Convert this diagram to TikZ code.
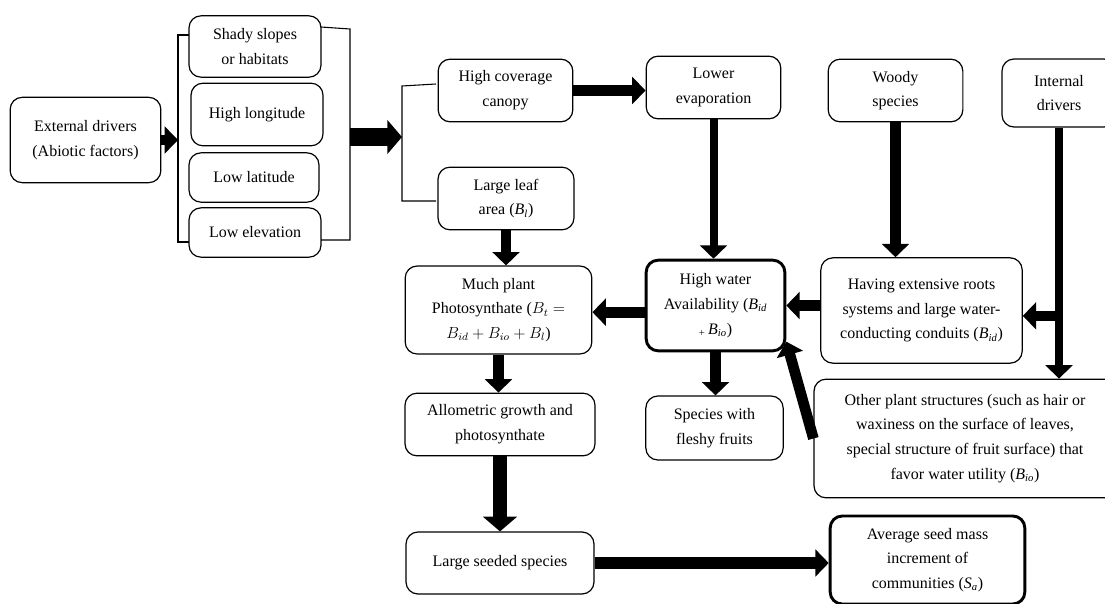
\documentclass[tikz,border=0pt]{standalone}
\usepackage{fontspec}
\setmainfont{Liberation Serif}
\usetikzlibrary{arrows.meta}
\newcommand{\Bsub}[1]{\textit{B}\textsubscript{\textit{#1}}}

\begin{document}
\begin{tikzpicture}[x=0.75pt, y=-0.75pt,
  box/.style={draw, rounded corners=9pt, line width=0.9pt, align=center, inner sep=2pt, font=\fontsize{12}{18.5}\selectfont},
  keybox/.style={box, line width=2.2pt},
  flow/.style={line width=8pt, -{Triangle[width=20pt, length=10pt]}},
  slimflow/.style={flow, line width=6pt},
  bigflow/.style={line width=14pt, -{Triangle[width=25pt, length=11pt]}},
  bracket/.style={line width=0.8pt}]
\useasboundingbox (0,0) rectangle (1105,603);
\clip (0,0) rectangle (1105,603);

% abiotic side
\node[box, minimum width=113pt, minimum height=64pt] (ext) at (85.5,140) {External drivers\\(Abiotic factors)};
\node[box, minimum width=99pt, minimum height=46pt] (shady) at (255,46.5) {Shady slopes\\or habitats};
\node[box, minimum width=99pt, minimum height=47pt] (longi) at (257,114.5) {High longitude};
\node[box, minimum width=97.5pt, minimum height=37pt] (lati) at (254,177.5) {Low latitude};
\node[box, minimum width=99pt, minimum height=37pt] (elev) at (255,232.5) {Low elevation};

% brackets
\draw[bracket] (189,35) -- (178,35) -- (178,242) -- (189,242);
\draw[bracket] (321,27) -- (350,29) -- (350,240) -- (321,240);
\draw[bracket] (436,84) -- (402,86) -- (402,201) -- (436,201);
\coordinate (lbr) at (178,140);
\coordinate (rbr) at (350,137);
\coordinate (cbr) at (402,137);

% canopy and leaves
\node[box, minimum width=101pt, minimum height=47pt] (canopy) at (505.5,90.5) {High coverage\\canopy};
\node[box, minimum width=102pt, minimum height=47pt] (leaf) at (506,198.5) {Large leaf\\area (\Bsub{l})};
\node[box, minimum width=101pt, minimum height=47pt] (evap) at (713.5,87.5) {Lower\\evaporation};

% internal side
\node[box, minimum width=101pt, minimum height=47pt] (woody) at (895.5,90.5) {Woody\\species};
\node[box, minimum width=85.5pt, minimum height=51pt] (int) at (1059,93) {Internal\\drivers};
\node[box, minimum width=151pt, minimum height=79pt] (having) at (921.5,310.5) {Having extensive roots\\systems and large water-\\conducting conduits (\Bsub{id})};
\node[box, minimum width=226.5pt, minimum height=89pt] (other) at (965,438.5) {Other plant structures (such as hair or\\waxiness on the surface of leaves,\\special structure of fruit surface) that\\favor water utility (\Bsub{io})};

% middle
\node[keybox, minimum width=104pt, minimum height=68pt] (water) at (715.5,305.5) {High water\\Availability (\Bsub{id}\\\textsubscript{+}\,\Bsub{io})};
\node[box, minimum width=140pt, minimum height=66pt] (much) at (498.5,310) {Much plant\\Photosynthate ($B_t =$\\$B_{id} + B_{io} + B_l$)};
\node[box, minimum width=142.5pt, minimum height=47pt] (allo) at (500,424.5) {Allometric growth and\\photosynthate};
\node[box, minimum width=103pt, minimum height=48pt] (fleshy) at (714.5,428) {Species with\\fleshy fruits};
\node[box, minimum width=141pt, minimum height=46.5pt] (seeded) at (500,563) {Large seeded species};
\node[keybox, minimum width=146pt, minimum height=66pt] (avg) at (927.5,560) {Average seed mass\\increment of\\communities (\textit{S}\textsubscript{\textit{a}})};

% arrows
\draw[flow] (ext.east) -- (lbr);
\draw[bigflow] (rbr) -- (cbr);
\draw[flow] (canopy.east) -- (canopy.east -| evap.west);
\draw[slimflow] (evap.south) -- (evap.south |- water.north);
\draw[flow] (woody.south) -- (woody.south |- having.north);
\draw[slimflow, -] (int.south) -- ([yshift=-4pt]int.south |- having.east);
\draw[slimflow] ([yshift=-4pt]int.south |- having.east) -- (int.south |- other.north);
\draw[flow] ([yshift=-4pt]int.south |- having.east) -- ([yshift=-4pt]having.east);
\draw[flow] (having.west |- water.east) -- (water.east);
\draw[flow] ([yshift=-5pt]water.west) -- ([yshift=-5pt]water.west -| much.east);
\draw[flow] (leaf.south) -- (leaf.south |- much.north);
\draw[flow] (much.south) -- (much.south |- allo.north);
\draw[flow] (water.south) -- (water.south |- fleshy.north);
\draw[flow] (other.west) -- ([yshift=8pt]water.south east);
\draw[bigflow, line width=10pt] (allo.south) -- (allo.south |- seeded.north);
\draw[flow, line width=9pt] (seeded.east) -- (seeded.east -| avg.west);
\end{tikzpicture}
\end{document}
